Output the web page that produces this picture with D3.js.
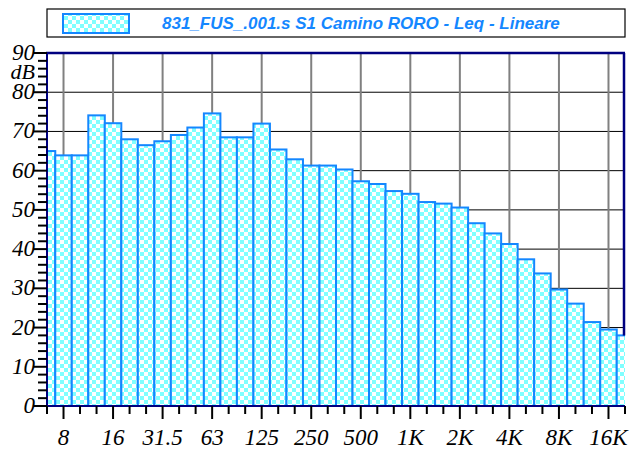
<!DOCTYPE html>
<html>
<head>
<meta charset="utf-8">
<script src="https://cdn.jsdelivr.net/npm/d3@7/dist/d3.min.js"></script>
<style>
  body { margin: 0; background: #fff; }
  svg { display: block; }
</style>
</head>
<body>
<svg id="chart" width="633" height="450"></svg>
<script>
// 1/3 octave bands, 6.3 Hz .. 20 kHz
var bands = ["6.3", "8", "10", "12.5", "16", "20", "25", "31.5", "40", "50", "63", "80",
  "100", "125", "160", "200", "250", "315", "400", "500", "630", "800", "1K", "1.25K",
  "1.6K", "2K", "2.5K", "3.15K", "4K", "5K", "6.3K", "8K", "10K", "12.5K", "16K", "20K"];
var leq = [65.0, 63.9, 63.9, 74.1, 72.1, 68.0, 66.5, 67.5, 69.1, 71.0, 74.6, 68.5,
  68.5, 72.0, 65.4, 62.9, 61.3, 61.3, 60.3, 57.3, 56.6, 54.8, 54.1, 52.0,
  51.6, 50.6, 46.6, 44.0, 41.3, 37.4, 33.8, 29.7, 26.1, 21.4, 19.5, 18.0];
var xLabels = ["8", "16", "31.5", "63", "125", "250", "500", "1K", "2K", "4K", "8K", "16K"];
var yLabels = [0, 10, 20, 30, 40, 50, 60, 70, 80, 90];
var title = "831_FUS_.001.s S1 Camino RORO - Leq - Lineare";

var plot = { left: 47, right: 625, top: 53, bottom: 406 },
  navy = "#000080",
  barBlue = "#1487ff",
  serifFam = "Times New Roman, Liberation Serif, serif";

var svg = d3.select("#chart");

// checker fill
var defs = svg.append("defs");
var pat = defs.append("pattern")
  .attr("id", "checker")
  .attr("patternUnits", "userSpaceOnUse")
  .attr("width", 8).attr("height", 8);
pat.append("rect").attr("width", 8).attr("height", 8).attr("fill", "#ffffff");
pat.append("rect").attr("width", 4).attr("height", 4).attr("fill", "#80ffff");
pat.append("rect").attr("x", 4).attr("y", 4).attr("width", 4).attr("height", 4).attr("fill", "#80ffff");

defs.append("clipPath").attr("id", "plotClip")
  .append("rect")
  .attr("x", plot.left).attr("y", plot.top - 2)
  .attr("width", plot.right - plot.left).attr("height", plot.bottom - plot.top + 4);

var x = d3.scaleLinear().domain([0, bands.length - 1]).range([plot.left, plot.right]);
var y = d3.scaleLinear().domain([0, 90]).range([plot.bottom, plot.top]);
var step = x(1) - x(0);

// legend box
svg.append("rect")
  .attr("x", 47).attr("y", 9).attr("width", 578).attr("height", 28)
  .attr("fill", "#fff").attr("stroke", "#000").attr("stroke-width", 1.2);
svg.append("rect")
  .attr("x", 63).attr("y", 14).attr("width", 66).attr("height", 19)
  .attr("fill", "url(#checker)").attr("stroke", barBlue).attr("stroke-width", 2);
svg.append("text")
  .attr("x", 162).attr("y", 29)
  .attr("fill", barBlue)
  .attr("font-family", "Liberation Sans, Arial, sans-serif")
  .attr("font-style", "italic")
  .attr("font-weight", "bold")
  .attr("font-size", 17)
  .text(title);

// grid
var grid = svg.append("g");
grid.selectAll(".hgrid")
  .data(yLabels.filter(function(d) { return d > 0 && d < 90; }))
  .enter().append("line")
  .attr("x1", plot.left).attr("x2", plot.right)
  .attr("y1", function(d) { return y(d); })
  .attr("y2", function(d) { return y(d); })
  .attr("stroke", "#000").attr("stroke-width", 1);
grid.selectAll(".vgrid")
  .data(xLabels)
  .enter().append("line")
  .attr("x1", function(d) { return x(bands.indexOf(d)); })
  .attr("x2", function(d) { return x(bands.indexOf(d)); })
  .attr("y1", plot.top).attr("y2", plot.bottom)
  .attr("stroke", "#808080").attr("stroke-width", 2);

// bars
svg.append("g")
  .attr("clip-path", "url(#plotClip)")
  .selectAll("rect")
  .data(leq)
  .enter().append("rect")
  .attr("x", function(d, i) { return x(i) - step / 2; })
  .attr("y", function(d) { return y(d); })
  .attr("width", step)
  .attr("height", function(d) { return plot.bottom - y(d); })
  .attr("fill", "url(#checker)")
  .attr("stroke", barBlue)
  .attr("stroke-width", 2);

// frame
svg.append("line").attr("x1", plot.left - 1).attr("x2", plot.right).attr("y1", plot.top).attr("y2", plot.top)
  .attr("stroke", navy).attr("stroke-width", 2.5);
svg.append("line").attr("x1", plot.left).attr("x2", plot.left).attr("y1", plot.top).attr("y2", plot.bottom)
  .attr("stroke", navy).attr("stroke-width", 2);
svg.append("line").attr("x1", plot.right - 1).attr("x2", plot.right - 1).attr("y1", plot.top).attr("y2", y(leq[leq.length - 1]))
  .attr("stroke", navy).attr("stroke-width", 2.5);
svg.append("line").attr("x1", plot.left).attr("x2", plot.right).attr("y1", plot.bottom).attr("y2", plot.bottom)
  .attr("stroke", navy).attr("stroke-width", 2);

// y axis ticks every 2 dB
var yTicks = d3.range(0, 91, 2);
svg.append("g").selectAll("line")
  .data(yTicks)
  .enter().append("line")
  .attr("x1", function(d) { return d % 10 === 0 ? plot.left - 14 : plot.left - 9; })
  .attr("x2", plot.left)
  .attr("y1", function(d) { return y(d); })
  .attr("y2", function(d) { return y(d); })
  .attr("stroke", "#000").attr("stroke-width", 2);

svg.append("g").selectAll("text")
  .data(yLabels)
  .enter().append("text")
  .attr("x", 35)
  .attr("y", function(d) { return y(d) + 7; })
  .attr("text-anchor", "end")
  .attr("font-family", serifFam)
  .attr("font-style", "italic")
  .attr("font-size", 23)
  .text(function(d) { return d; });

svg.append("text")
  .attr("x", 35).attr("y", 79)
  .attr("text-anchor", "end")
  .attr("font-family", serifFam)
  .attr("font-style", "italic")
  .attr("font-size", 22)
  .text("dB");

// x axis ticks at band centres
svg.append("g").selectAll("line")
  .data(bands)
  .enter().append("line")
  .attr("x1", function(d, i) { return x(i); })
  .attr("x2", function(d, i) { return x(i); })
  .attr("y1", plot.bottom)
  .attr("y2", function(d) { return xLabels.indexOf(d) >= 0 ? plot.bottom + 13 : plot.bottom + 8; })
  .attr("stroke", "#000").attr("stroke-width", 2);

svg.append("g").selectAll("text")
  .data(xLabels)
  .enter().append("text")
  .attr("x", function(d) { return x(bands.indexOf(d)); })
  .attr("y", 445)
  .attr("text-anchor", "middle")
  .attr("font-family", serifFam)
  .attr("font-style", "italic")
  .attr("font-size", 23)
  .text(function(d) { return d; });
</script>
</body>
</html>
